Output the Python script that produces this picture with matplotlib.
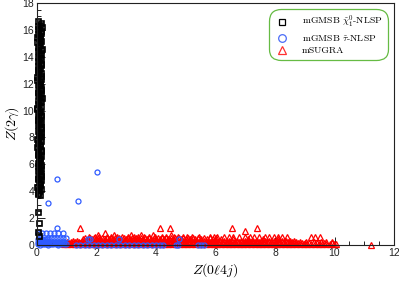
import matplotlib
matplotlib.use("Agg")
import matplotlib.pyplot as plt
from matplotlib.lines import Line2D
from matplotlib.ticker import MultipleLocator
from matplotlib.font_manager import FontProperties

plt.rcParams['mathtext.fontset'] = 'cm'
plt.rcParams['font.family'] = ['Liberation Sans', 'DejaVu Sans']

# ---------------- data ----------------
# mGMSB chi-NLSP (black squares)
chi_y = [16.65, 16.5, 16.3, 16.25, 16.0, 15.9, 15.7, 15.55, 15.4, 15.2,
         15.1, 14.9, 14.75, 14.6, 14.4, 14.3, 14.1, 13.95, 13.8, 13.6,
         13.5, 13.3, 13.15, 13.0, 12.8, 12.7, 12.5, 12.35, 12.2, 12.0,
         11.9, 11.7, 11.55, 11.4, 11.2, 11.1, 10.9, 10.75, 10.6, 10.4,
         10.3, 10.1, 9.95, 9.8, 9.6, 9.5, 9.3, 9.15, 9.0, 8.8,
         8.7, 8.5, 8.35, 8.2, 8.0, 7.9, 7.7, 7.55, 7.4, 7.2,
         7.1, 6.9, 6.75, 6.6, 6.4, 6.3, 6.1, 5.95, 5.8, 5.6,
         5.5, 5.3, 5.15, 5.0, 4.8, 4.7, 4.5, 4.35, 4.2, 4.0,
         3.9, 3.7, 2.45, 1.65, 1.0, 0.7]
chi_x = [0.05, 0.12, 0.02, 0.18, 0.08, 0.14, 0.03, 0.10, 0.06, 0.15,
         0.01, 0.11, 0.07, 0.16, 0.04, 0.13, 0.09, 0.02, 0.14, 0.06,
         0.12, 0.03, 0.10, 0.05, 0.15, 0.08, 0.01, 0.13, 0.07, 0.11,
         0.04, 0.14, 0.09, 0.02, 0.12, 0.06, 0.16, 0.03, 0.10, 0.07,
         0.13, 0.01, 0.11, 0.05, 0.15, 0.08, 0.02, 0.12, 0.06, 0.14,
         0.09, 0.03, 0.13, 0.07, 0.11, 0.01, 0.15, 0.05, 0.10, 0.04,
         0.12, 0.08, 0.02, 0.14, 0.06, 0.10, 0.03, 0.13, 0.07, 0.11,
         0.05, 0.15, 0.09, 0.02, 0.12, 0.06, 0.10, 0.04, 0.13, 0.08,
         0.03, 0.10, 0.05, 0.07, 0.04, 0.06]
# extra chi points filling the dense column
chi2_y = [16.4, 16.1, 15.8, 15.5, 15.3, 15.0, 14.7, 14.5, 14.2, 13.9,
          13.7, 13.4, 13.1, 12.9, 12.6, 12.3, 12.1, 11.8, 11.5, 11.3,
          11.0, 10.7, 10.5, 10.2, 9.9, 9.7, 9.4, 9.1, 8.9, 8.6,
          8.3, 8.1, 7.8, 7.5, 7.3, 7.0, 6.7, 6.5, 6.2, 5.9,
          5.7, 5.4, 5.1, 4.9, 4.6, 4.3, 4.1, 3.8]
chi2_x = [0.09, 0.04, 0.13, 0.01, 0.11, 0.07, 0.03, 0.14, 0.06, 0.10,
          0.02, 0.12, 0.08, 0.04, 0.13, 0.01, 0.10, 0.06, 0.14, 0.03,
          0.09, 0.12, 0.05, 0.01, 0.08, 0.13, 0.04, 0.10, 0.02, 0.12,
          0.07, 0.14, 0.03, 0.09, 0.01, 0.13, 0.05, 0.11, 0.08, 0.02,
          0.12, 0.06, 0.14, 0.04, 0.10, 0.01, 0.08, 0.05]

# mGMSB stau-NLSP (blue circles)
tau_x = [0.66, 2.0, 0.37, 1.38, 0.67,
         0.05, 0.17, 0.30, 0.44, 0.57, 0.71, 0.87,
         0.37, 0.47, 0.57, 0.67, 0.77, 0.87, 0.98, 1.72, 1.78, 2.76, 4.78,
         0.02, 0.10, 0.18, 0.26, 0.34, 0.06, 0.14, 0.22, 0.30,
         0.03, 0.12, 0.20, 0.30, 0.38, 0.47, 0.55, 0.65, 0.73, 0.83, 0.92,
         0.07, 0.16, 0.25, 0.34, 0.42, 0.51, 0.60, 0.69, 0.78, 0.87,
         0.02, 0.10, 0.20, 0.28, 0.37, 0.46, 0.55, 0.63, 0.72, 0.80, 0.90, 0.98,
         1.30, 1.45, 1.60, 1.75, 1.90, 2.05, 2.20, 2.35, 2.50, 2.65, 2.80,
         2.95, 3.10, 3.25, 3.40, 3.55, 3.70, 3.85, 4.00, 4.15, 4.25,
         4.68, 4.74, 5.42, 5.52, 5.62]
tau_y = [4.90, 5.43, 3.10, 3.27, 1.26,
         0.90, 0.92, 0.90, 0.91, 0.90, 0.92, 0.90,
         0.54, 0.55, 0.54, 0.54, 0.55, 0.54, 0.54, 0.45, 0.45, 0.45, 0.45,
         0.42, 0.41, 0.43, 0.41, 0.42, 0.30, 0.31, 0.30, 0.29,
         0.22, 0.23, 0.21, 0.22, 0.23, 0.22, 0.21, 0.22, 0.23, 0.22, 0.21,
         0.12, 0.13, 0.12, 0.11, 0.12, 0.13, 0.12, 0.11, 0.12, 0.13,
         0.04, 0.03, 0.05, 0.04, 0.03, 0.04, 0.05, 0.04, 0.03, 0.04, 0.05, 0.04,
         0.02, 0.02, 0.02, 0.02, 0.02, 0.02, 0.02, 0.02, 0.02, 0.02, 0.02,
         0.02, 0.02, 0.02, 0.02, 0.02, 0.02, 0.02, 0.02, 0.02, 0.02,
         0.02, 0.02, 0.02, 0.02, 0.02]

# mSUGRA (red triangles): band rows + outliers
sugra_levels = [0.04, 0.13, 0.22, 0.32, 0.42, 0.50, 0.60, 0.72]
sugra_rows_x = [
    [0.9, 1.02, 1.15, 1.27, 1.4, 1.52, 1.65, 1.78, 1.9, 2.03, 2.15, 2.28, 2.4,
     2.53, 2.66, 2.78, 2.91, 3.03, 3.16, 3.29, 3.41, 3.54, 3.66, 3.79, 3.92,
     4.04, 4.17, 4.3, 4.42, 4.55, 4.67, 4.8, 4.93, 5.05, 5.18, 5.3, 5.43, 5.56,
     5.68, 5.81, 5.94, 6.06, 6.19, 6.31, 6.44, 6.57, 6.69, 6.82, 6.94, 7.07,
     7.2, 7.32, 7.45, 7.57, 7.7, 7.83, 7.95, 8.08, 8.2, 8.33, 8.46, 8.58, 8.71,
     8.83, 8.96, 9.09, 9.21, 9.34, 9.47, 9.59, 9.72, 9.85, 9.97, 10.05],
    [0.96, 1.08, 1.21, 1.33, 1.46, 1.58, 1.71, 1.84, 1.96, 2.09, 2.21, 2.34,
     2.46, 2.59, 2.72, 2.84, 2.97, 3.09, 3.22, 3.35, 3.47, 3.6, 3.72, 3.85,
     3.98, 4.1, 4.23, 4.36, 4.48, 4.61, 4.73, 4.86, 4.99, 5.11, 5.24, 5.36,
     5.49, 5.62, 5.74, 5.87, 6.0, 6.12, 6.25, 6.37, 6.5, 6.63, 6.75, 6.88, 7.0,
     7.13, 7.26, 7.38, 7.51, 7.63, 7.76, 7.89, 8.01, 8.14, 8.26, 8.39, 8.52,
     8.64, 8.77, 8.9, 9.02, 9.15, 9.4, 9.65, 9.9],
    [1.0, 1.13, 1.28, 1.42, 1.55, 1.69, 1.83, 1.97, 2.1, 2.24, 2.38, 2.52, 2.65,
     2.79, 2.93, 3.07, 3.2, 3.34, 3.48, 3.62, 3.75, 3.89, 4.03, 4.17, 4.3, 4.44,
     4.58, 4.72, 4.85, 4.99, 5.13, 5.27, 5.4, 5.54, 5.68, 5.82, 5.95, 6.09, 6.23,
     6.37, 6.5, 6.64, 6.78, 6.92, 7.05, 7.19, 7.33, 7.47, 7.6, 7.74, 7.88, 8.02,
     8.15, 8.29, 8.43, 8.57, 8.7, 8.84, 9.05, 9.3, 9.55, 9.72, 9.9],
    [1.2, 1.35, 1.5, 1.62, 1.76, 1.9, 2.04, 2.17, 2.31, 2.45, 2.59, 2.72, 2.86,
     3.0, 3.14, 3.27, 3.41, 3.55, 3.69, 3.82, 3.96, 4.1, 4.24, 4.37, 4.51, 4.65,
     4.79, 4.92, 5.06, 5.2, 5.34, 5.47, 5.61, 5.75, 5.89, 6.02, 6.16, 6.3, 6.44,
     6.57, 6.71, 6.85, 6.99, 7.12, 7.26, 7.4, 7.54, 7.67, 7.81, 7.95, 8.09,
     8.22, 8.36, 8.5, 8.64],
    [1.55, 1.7, 1.84, 1.98, 2.12, 2.27, 2.41, 2.55, 2.7, 2.84, 2.98, 3.13, 3.27,
     3.41, 3.56, 3.7, 3.84, 3.99, 4.13, 4.27, 4.42, 4.56, 4.7, 4.85, 5.0, 5.15,
     5.3, 5.5, 5.7, 5.9, 6.2, 6.6, 7.1, 7.6, 8.1],
    [1.62, 1.77, 1.91, 2.05, 2.2, 2.34, 2.48, 2.63, 2.77, 2.91, 3.06, 3.2, 3.34,
     3.49, 3.63, 3.77, 3.92, 4.06, 4.2, 4.35, 4.49, 4.63, 4.78, 4.92, 5.08,
     5.23, 5.4, 5.6, 5.8, 6.0],
    [1.75, 1.95, 2.1, 2.35, 2.5, 2.7, 2.85, 3.05, 3.25, 3.4, 3.6, 3.75, 3.95,
     4.2, 4.35, 4.6, 4.75, 4.9, 5.05, 5.2, 5.45, 5.8, 5.95, 6.05, 6.3, 6.45,
     6.6, 6.8, 7.0, 7.15, 7.3, 7.45, 7.65, 7.8, 7.95, 8.1, 8.25, 8.4,
     9.2, 9.35, 9.5],
    [2.05, 2.6, 3.15, 3.5, 3.9, 4.5],
]
sugra_out_x = [1.45, 2.3, 4.13, 4.47, 6.55, 7.0, 7.4, 11.23]
sugra_out_y = [1.26, 0.9, 1.26, 1.26, 1.26, 1.04, 1.26, 0.0]

labels = [r'mGMSB $\tilde{\chi}_1^0$-NLSP', r'mGMSB $\tilde{\tau}$-NLSP', 'mSUGRA']
x_ticks = [0, 2, 4, 6, 8, 10, 12]
y_ticks = [0, 2, 4, 6, 8, 10, 12, 14, 16, 18]

sugra_x = [x for row in sugra_rows_x for x in row] + sugra_out_x
sugra_y = [lvl for lvl, row in zip(sugra_levels, sugra_rows_x) for _ in row] + sugra_out_y
all_chi_x = chi_x + chi2_x
all_chi_y = chi_y + chi2_y

# ---------------- plot ----------------
W, H = 399, 281
fig = plt.figure(figsize=(W / 100, H / 100), dpi=100)
ax = fig.add_axes([37 / W, 1 - 245 / H, (394 - 37) / W, (245 - 3) / H])

red = '#ff0000'
blue = '#2f5bff'
ax.plot(sugra_x, sugra_y, ls='none', marker='^', ms=4.3, mfc='none', mec=red, mew=0.9, clip_on=False)
ax.plot(tau_x, tau_y, ls='none', marker='o', ms=3.6, mfc='none', mec=blue, mew=0.9, clip_on=False)
ax.plot(all_chi_x, all_chi_y, ls='none', marker='s', ms=3.6, mfc='none', mec='black', mew=1.2, clip_on=False)

ax.set_xlim(0, 12)
ax.set_ylim(0, 18)
ax.set_xticks(x_ticks)
ax.set_yticks(y_ticks)
ax.xaxis.set_minor_locator(MultipleLocator(0.5))
ax.yaxis.set_minor_locator(MultipleLocator(0.5))
ax.tick_params(which='major', direction='in', length=5.5, width=0.7, labelsize=7.5,
               colors='#222222', pad=2, top=False, right=False)
ax.tick_params(which='minor', direction='in', length=2.8, width=0.6, top=False, right=False)
for s in ax.spines.values():
    s.set_linewidth(0.8)
    s.set_color('#222222')

fig.text(215 / W, 1 - 270 / H, r'$Z(0\ell 4j)$', ha='center', va='center', fontsize=10)
fig.text(12 / W, 1 - 124 / H, r'$Z(2\gamma)$', ha='center', va='center', fontsize=10, rotation=90)

handles = [
    Line2D([], [], ls='none', marker='s', ms=5, mfc='none', mec='black', mew=0.9),
    Line2D([], [], ls='none', marker='o', ms=5.5, mfc='none', mec='#4a6cf7', mew=0.9),
    Line2D([], [], ls='none', marker='^', ms=6, mfc='none', mec='#ff3030', mew=0.9),
]
leg = ax.legend(handles, labels, loc='upper right', bbox_to_anchor=(0.983, 0.975),
                prop=FontProperties(family='cmr10', size=7), frameon=True,
                handlelength=1.6, handletextpad=1.2, labelspacing=0.3,
                borderpad=0.55, borderaxespad=0.0)
fr = leg.get_frame()
fr.set_edgecolor('#66bb44')
fr.set_linewidth(0.9)
fr.set_facecolor('white')
fr.set_alpha(1)
fr.set_boxstyle('round,pad=0.0,rounding_size=1.2')

fig.savefig('out.png', dpi=100)
